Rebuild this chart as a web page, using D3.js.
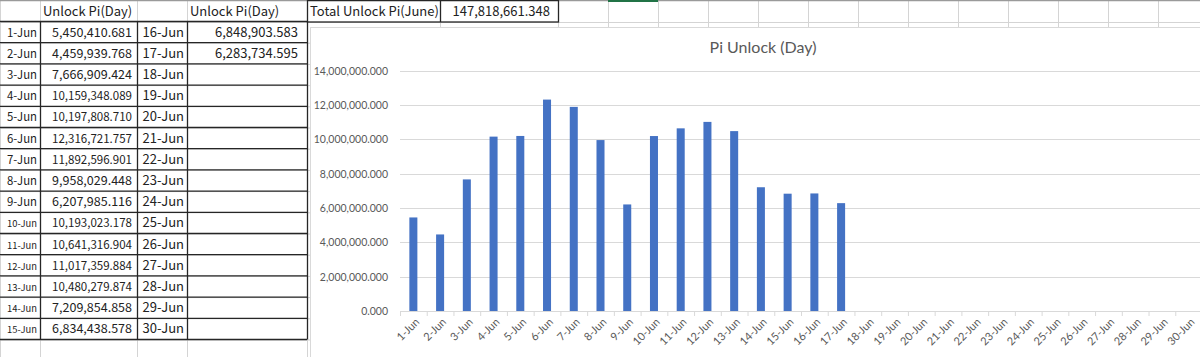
<!DOCTYPE html>
<html>
<head>
<meta charset="utf-8">
<script src="https://cdn.jsdelivr.net/npm/d3@7"></script>
<style>
  html, body { margin: 0; padding: 0; background: #fff; }
  svg { display: block; }
</style>
</head>
<body>
<div id="root"></div>
<script>
// values
var days = ["1-Jun","2-Jun","3-Jun","4-Jun","5-Jun","6-Jun","7-Jun","8-Jun","9-Jun","10-Jun",
  "11-Jun","12-Jun","13-Jun","14-Jun","15-Jun","16-Jun","17-Jun","18-Jun","19-Jun","20-Jun",
  "21-Jun","22-Jun","23-Jun","24-Jun","25-Jun","26-Jun","27-Jun","28-Jun","29-Jun","30-Jun"];
var unlock = [5450410.681, 4459939.768, 7666909.424, 10159348.089, 10197808.710, 12316721.757,
  11892596.901, 9958029.448, 6207985.116, 10193023.178, 10641316.904, 11017359.884,
  10480279.874, 7209854.858, 6834438.578, 6848903.583, 6283734.595];
var yTicks = [0, 2e6, 4e6, 6e6, 8e6, 10e6, 12e6, 14e6];
var headerDay = "Unlock Pi(Day)";
var totalLabel = "Total Unlock Pi(June)";
var totalValue = 147818661.348;
var chartTitle = "Pi Unlock (Day)";

var W = 1200, H = 357;
var fmt = d3.format(",.3f");
var tableFont = "'Noto Sans CJK JP', 'Noto Sans', sans-serif";
var chartFont = "Lato, 'Noto Sans', sans-serif";

var svg = d3.select("#root").append("svg").attr("width", W).attr("height", H);

// ---- spreadsheet grid ----
var cols = [0, 40, 137, 187, 307, 440, 558];
for (var c = 608; c < W; c += 50) cols.push(c);
var rowH = 21.2, top0 = 0.5;
var rows = d3.range(17).map(function(i) { return top0 + 21 + i * rowH; });

// light gridlines behind everything
var grid = svg.append("g").attr("stroke", "#d4d4d4").attr("stroke-width", 1);
cols.forEach(function(x) {
  grid.append("line").attr("x1", x + 0.5).attr("x2", x + 0.5).attr("y1", 0).attr("y2", H);
});
grid.append("line").attr("x1", 0).attr("x2", W).attr("y1", 22.5).attr("y2", 22.5);
d3.range(16).forEach(function(i) {
  grid.append("line").attr("x1", 0).attr("x2", 310).attr("y1", rows[i] + 0.5).attr("y2", rows[i] + 0.5);
});
grid.append("line").attr("x1", 0).attr("x2", 310).attr("y1", rows[15] + rowH).attr("y2", rows[15] + rowH);

// top header edge
svg.append("line").attr("x1", 0).attr("x2", W).attr("y1", 0.5).attr("y2", 0.5)
  .attr("stroke", "#9a9a9a").attr("stroke-width", 1.5);
svg.append("line").attr("x1", 608).attr("x2", 658).attr("y1", 1).attr("y2", 1)
  .attr("stroke", "#217346").attr("stroke-width", 2);

// ---- table ----
var tbl = svg.append("g");
var dark = "#262626";
var bottom = 21 + 15 * rowH;
// dark borders of the data block
d3.range(16).forEach(function(i) {
  tbl.append("line").attr("x1", 0).attr("x2", 307).attr("y1", 21.5 + i * rowH).attr("y2", 21.5 + i * rowH)
    .attr("stroke", dark).attr("stroke-width", 1.3);
});
[40, 137, 187, 307].forEach(function(x) {
  tbl.append("line").attr("x1", x + 0.5).attr("x2", x + 0.5).attr("y1", 21.5).attr("y2", bottom + 0.5)
    .attr("stroke", dark).attr("stroke-width", 1.3);
});
// E1 / F1 box
tbl.append("rect").attr("x", 307.5).attr("y", 0.5).attr("width", 251).attr("height", 21.5)
  .attr("fill", "none").attr("stroke", dark).attr("stroke-width", 1.3);
tbl.append("line").attr("x1", 440.5).attr("x2", 440.5).attr("y1", 0).attr("y2", 22)
  .attr("stroke", dark).attr("stroke-width", 1.3);

function cell(x, y, txt, anchor, size, maxW) {
  var t = tbl.append("text").attr("x", x).attr("y", y)
    .attr("text-anchor", anchor).attr("font-family", tableFont)
    .attr("font-size", size).attr("fill", "#222").text(txt);
  if (maxW) {
    var w = t.node().getComputedTextLength();
    if (w > maxW) t.attr("font-size", size * maxW / w);
  }
  return t;
}

cell(43, 16, headerDay, "start", 13);
cell(190, 16, headerDay, "start", 13);
cell(310, 16, totalLabel, "start", 13);
cell(550, 16, fmt(totalValue), "end", 13);

d3.range(15).forEach(function(i) {
  var yb = 21 + i * rowH + 15.5;
  cell(37, yb, days[i], "end", 12.5, 30);
  cell(132, yb, fmt(unlock[i]), "end", 13, 80);
  cell(184, yb, days[i + 15], "end", 13, 44);
  if (unlock[i + 15] != null) cell(298, yb, fmt(unlock[i + 15]), "end", 13, 110);
});

// ---- chart ----
var chart = svg.append("g");
chart.append("rect").attr("x", 310.5).attr("y", 27.5).attr("width", W).attr("height", H)
  .attr("fill", "#fff").attr("stroke", "#d9d9d9");

chart.append("text").attr("x", 763).attr("y", 53).attr("text-anchor", "middle")
  .attr("font-family", chartFont).attr("font-size", 16).attr("fill", "#595959").text(chartTitle);

var x = d3.scaleBand().domain(days).range([400, 1202]).paddingInner(0.7).paddingOuter(0.35);
var y = d3.scaleLinear().domain([0, 14e6]).range([311, 70.7]);

var yAxis = d3.axisLeft(y).tickValues(yTicks).tickFormat(fmt).tickSize(0).tickPadding(12);
var yg = chart.append("g").attr("transform", "translate(400,0)").call(yAxis);
yg.select(".domain").remove();
yg.selectAll("text").attr("font-family", chartFont).attr("font-size", 10.5).attr("fill", "#595959");

chart.append("g").selectAll("line").data(yTicks.slice(1)).join("line")
  .attr("x1", 400).attr("x2", W)
  .attr("y1", function(d) { return Math.round(y(d)) + 0.5; })
  .attr("y2", function(d) { return Math.round(y(d)) + 0.5; })
  .attr("stroke", "#d9d9d9");

chart.append("g").selectAll("rect").data(unlock).join("rect")
  .attr("x", function(d, i) { return x(days[i]); })
  .attr("width", x.bandwidth())
  .attr("y", function(d) { return y(d); })
  .attr("height", function(d) { return y(0) - y(d); })
  .attr("fill", "#4472C4");

// category axis, ticks sit on the band edges
var step = x.step();
var xg = chart.append("g");
xg.append("line").attr("x1", 400).attr("x2", W).attr("y1", 311.5).attr("y2", 311.5).attr("stroke", "#d9d9d9");
xg.selectAll("line.tk").data(d3.range(days.length + 1)).join("line").attr("class", "tk")
  .attr("x1", function(i) { return 400.5 + i * step; })
  .attr("x2", function(i) { return 400.5 + i * step; })
  .attr("y1", 311).attr("y2", 316).attr("stroke", "#d9d9d9");
xg.selectAll("text").data(days).join("text")
  .attr("transform", function(d) { return "translate(" + (x(d) + x.bandwidth() / 2 + 4) + ",320) rotate(-45)"; })
  .attr("text-anchor", "end").attr("dy", "0.35em")
  .attr("font-family", chartFont).attr("font-size", 11).attr("fill", "#595959")
  .text(function(d) { return d; });
</script>
</body>
</html>
